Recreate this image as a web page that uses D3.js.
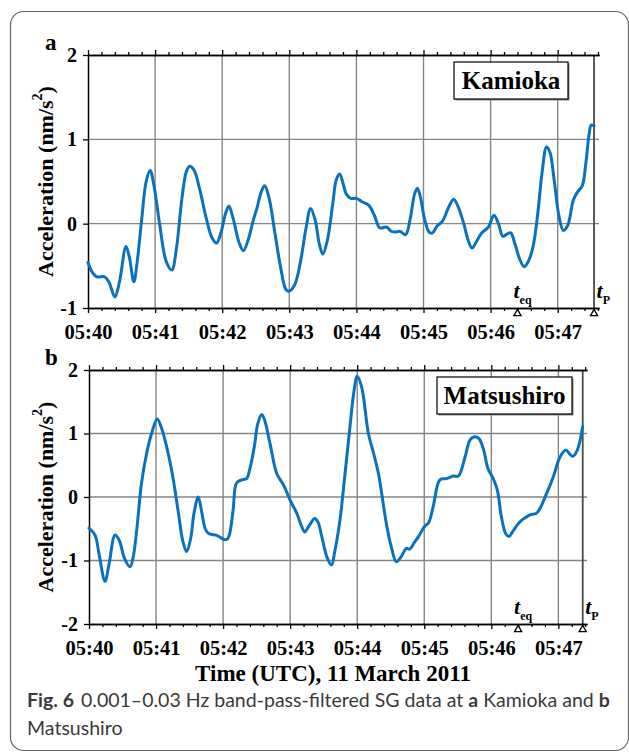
<!DOCTYPE html>
<html>
<head>
<meta charset="utf-8">
<script src="https://cdn.jsdelivr.net/npm/d3@7"></script>
<style>
  html, body { margin: 0; padding: 0; background: #fff; }
  svg { display: block; }
</style>
</head>
<body>
<svg id="chart" width="629" height="755"></svg>
<script>
// ---------- DATA (seconds after 05:40:00 UTC, acceleration nm/s^2) ----------
const kamiokaTime = [0,4,8,15,19,24,28,34,37,41,44,48,52,55.5,59,64,70,75,79,84,88,91,95,100,106,111,115,119,123,126,130,135,139,143,148,151,155,158,162,167,172,177,180,185,190,195,199,203,207,210,214,219,222,225,228,231,235,240,245,251,256,261,267,271,275,279,284,288,292,294.5,297,301,305,308,312,317,322,327,331,336,340,343.5,347,352,358,363,367,371,375,378,382,386,390,394,398,402,406,410,413,417,421,425,429,434,438,442,445,448,450,452.5];
const kamiokaAccel = [-0.46,-0.58,-0.63,-0.63,-0.70,-0.87,-0.70,-0.27,-0.40,-0.69,-0.45,0.05,0.50,0.63,0.45,0.00,-0.45,-0.55,-0.30,0.30,0.62,0.68,0.63,0.40,0.05,-0.17,-0.23,-0.10,0.12,0.21,0.05,-0.22,-0.32,-0.20,0.05,0.18,0.38,0.45,0.30,-0.10,-0.50,-0.78,-0.80,-0.72,-0.45,-0.05,0.18,0.05,-0.25,-0.36,-0.20,0.25,0.52,0.59,0.48,0.35,0.30,0.30,0.26,0.22,0.10,-0.05,-0.04,-0.09,-0.10,-0.09,-0.13,0.05,0.35,0.42,0.33,0.05,-0.10,-0.11,-0.03,0.03,0.18,0.29,0.20,0.00,-0.20,-0.29,-0.22,-0.11,-0.04,0.10,0.00,-0.15,-0.12,-0.11,-0.25,-0.42,-0.51,-0.44,-0.27,0.10,0.60,0.91,0.85,0.50,0.10,-0.08,-0.02,0.28,0.38,0.45,0.70,1.05,1.17,1.16];

const matsushiroTime = [0,5.4,9,14.3,18,23.3,27,32,36.7,39.5,42.7,47,51.6,56,61,65,69.5,75,80,84,87.4,91,94,97.8,101,104,106.8,110,113.6,117,120.8,124,126,129,132,136.6,141,144,148,151,154.5,157,162,168,174,180,186,190,193,197,202,205,208,213,217,220,224.6,229,233.5,237,240,244,250,254.5,259,266,270,275,279,284,287,291,295,300,304,308,314,320,326,330.5,336.5,341,345,349,353,357,362,365.5,369,373,376,380,385.7,390,394.6,400,403,409.6,415.5,421.5,426.8,430,433,437,441.8];
const matsushiroAccel = [-0.49,-0.60,-0.90,-1.33,-1.05,-0.60,-0.68,-0.98,-1.10,-0.95,-0.52,0.22,0.69,1.00,1.23,1.08,0.79,0.32,-0.25,-0.70,-0.86,-0.65,-0.25,0.00,-0.25,-0.50,-0.57,-0.59,-0.60,-0.63,-0.67,-0.66,-0.57,-0.20,0.22,0.27,0.29,0.45,0.80,1.15,1.30,1.22,0.84,0.37,0.19,-0.05,-0.26,-0.45,-0.55,-0.45,-0.34,-0.40,-0.60,-0.95,-1.07,-0.85,-0.36,0.35,1.10,1.65,1.90,1.73,1.00,0.70,0.37,-0.41,-0.75,-1.02,-0.95,-0.81,-0.82,-0.72,-0.62,-0.47,-0.40,-0.15,0.27,0.29,0.33,0.33,0.63,0.90,0.95,0.92,0.75,0.45,0.28,0.10,-0.31,-0.58,-0.62,-0.52,-0.39,-0.33,-0.28,-0.26,-0.20,0.06,0.32,0.63,0.74,0.68,0.64,0.74,1.11];

const xTickLabels = ["05:40","05:41","05:42","05:43","05:44","05:45","05:46","05:47"];
const kamiokaYTicks = [-1, 0, 1, 2];
const matsushiroYTicks = [-2, -1, 0, 1, 2];
const tEq = 384;            // 05:46:24
const kamiokaTP = 452.5;    // P arrival at Kamioka
const matsushiroTP = 441.8; // P arrival at Matsushiro

// ---------- DRAW ----------
const svg = d3.select("#chart");
const serif = "'Liberation Serif','Times New Roman',Times,serif";
const blue = "#0a72bd";
const gridCol = "#858585";

svg.append("rect").attr("x", 10.5).attr("y", 11.5).attr("width", 618).attr("height", 739)
  .attr("rx", 13).attr("fill", "none").attr("stroke", "#666").attr("stroke-width", 1.2);

function panel(cfg) {
  const x = d3.scaleLinear().domain([0, cfg.xEnd]).range([cfg.left, cfg.right]);
  const y = d3.scaleLinear().domain(cfg.yDomain).range([cfg.bottom, cfg.top]);
  const g = svg.append("g");
  const majors = d3.range(0, cfg.xEnd, 60);
  const minors = d3.range(0, cfg.xEnd, 12).filter(v => v % 60 !== 0);

  // grid
  g.append("g").selectAll("line").data(majors.filter(v => v > 0)).join("line")
    .attr("x1", d => x(d)).attr("x2", d => x(d)).attr("y1", cfg.top).attr("y2", cfg.bottom)
    .attr("stroke", gridCol).attr("stroke-width", 1.4);
  g.append("g").selectAll("line").data(cfg.yTicks.filter(v => v > cfg.yDomain[0] && v < cfg.yDomain[1])).join("line")
    .attr("x1", cfg.left).attr("x2", cfg.right).attr("y1", d => y(d)).attr("y2", d => y(d))
    .attr("stroke", gridCol).attr("stroke-width", 1.4);

  // t_P vertical line
  g.append("line").attr("x1", x(cfg.tP)).attr("x2", x(cfg.tP)).attr("y1", cfg.top).attr("y2", cfg.bottom)
    .attr("stroke", "#4a4a4a").attr("stroke-width", 1.8);

  // axes
  const styleAxis = sel => {
    sel.select(".domain").attr("stroke", "#000").attr("stroke-width", 1.5);
    sel.selectAll(".tick line").attr("stroke", "#000").attr("stroke-width", 1.3);
    sel.selectAll("text").attr("font-family", serif).attr("font-weight", "bold").attr("font-size", "20.5px").attr("fill", "#000");
  };
  g.append("g").attr("transform", `translate(0,${cfg.top})`)
    .call(d3.axisTop(x).tickValues(minors).tickSize(3).tickSizeOuter(0).tickFormat(""))
    .call(styleAxis);
  g.append("g").attr("transform", `translate(0,${cfg.top})`)
    .call(d3.axisTop(x).tickValues(majors).tickSize(5).tickSizeOuter(0).tickFormat(""))
    .call(styleAxis);
  g.append("g").attr("transform", `translate(0,${cfg.bottom})`)
    .call(d3.axisBottom(x).tickValues(minors).tickSize(3).tickSizeOuter(0).tickFormat(""))
    .call(styleAxis);
  g.append("g").attr("transform", `translate(0,${cfg.bottom})`)
    .call(d3.axisBottom(x).tickValues(majors).tickSize(5).tickSizeOuter(0).tickPadding(11)
      .tickFormat((d, i) => xTickLabels[i]))
    .call(styleAxis);
  g.append("g").attr("transform", `translate(${cfg.left},0)`)
    .call(d3.axisLeft(y).tickValues(cfg.yTicks).tickSize(5).tickSizeOuter(0).tickPadding(6)
      .tickFormat(d => d < 0 ? "-" + Math.abs(d) : String(d)))
    .call(styleAxis)
    .call(s => s.selectAll("text").attr("font-size", "20px"));

  // curve
  const pts = cfg.t.map((t, i) => [t, cfg.v[i]]);
  g.append("path").datum(pts)
    .attr("d", d3.line().x(d => x(d[0])).y(d => y(d[1])).curve(d3.curveCatmullRom.alpha(0.5)))
    .attr("fill", "none").attr("stroke", blue).attr("stroke-width", 3)
    .attr("stroke-linejoin", "round").attr("stroke-linecap", "round");

  // triangles
  const tri = d3.symbol().type(d3.symbolTriangle).size(22);
  [tEq, cfg.tP].forEach(t => {
    g.append("path").attr("d", tri()).attr("transform", `translate(${x(t)},${cfg.bottom + 5.5})`)
      .attr("fill", "#fff").attr("stroke", "#000").attr("stroke-width", 1.3);
  });
  // t labels
  const tl = (t, sub, dx) => {
    const txt = g.append("text").attr("x", x(t) + dx).attr("y", cfg.bottom - 10)
      .attr("font-family", serif).attr("font-weight", "bold");
    txt.append("tspan").attr("font-style", "italic").attr("font-size", "22px").text("t");
    txt.append("tspan").attr("font-size", "12px").attr("dy", 6).text(sub);
  };
  tl(tEq, "eq", -4);
  tl(cfg.tP, "P", 2.5);

  // station label box
  const bx = cfg.box;
  g.append("rect").attr("x", bx.x + 1.5).attr("y", bx.y + 1.5).attr("width", bx.w).attr("height", bx.h)
    .attr("fill", "#888");
  g.append("rect").attr("x", bx.x).attr("y", bx.y).attr("width", bx.w).attr("height", bx.h)
    .attr("fill", "#fff").attr("stroke", "#000").attr("stroke-width", 1.2);
  g.append("text").attr("x", bx.x + bx.w / 2).attr("y", bx.y + bx.h - 10).attr("text-anchor", "middle")
    .attr("font-family", serif).attr("font-weight", "bold").attr("font-size", "25px").text(cfg.name);

  // panel letter
  g.append("text").attr("x", 45).attr("y", cfg.letterY).attr("font-family", serif).attr("font-weight", "bold")
    .attr("font-size", "23px").text(cfg.letter);

  // y label
  const yl = g.append("text").attr("transform", `translate(45,${(cfg.top + cfg.bottom) / 2}) rotate(-90)`)
    .attr("text-anchor", "middle").attr("dominant-baseline", "central")
    .attr("font-family", serif).attr("font-weight", "bold").attr("font-size", "22px");
  yl.append("tspan").text("Acceleration (nm/s");
  yl.append("tspan").attr("font-size", "14px").attr("dy", -8).text("2");
  yl.append("tspan").attr("dy", 8).text(")");
}

panel({ t: kamiokaTime, v: kamiokaAccel, xEnd: (599 - 88) / 67.1 * 60, left: 88, right: 599,
  top: 55, bottom: 308, yDomain: [-1, 2], yTicks: kamiokaYTicks, tP: kamiokaTP,
  name: "Kamioka", box: { x: 454, y: 62, w: 114, h: 37 }, letter: "a", letterY: 50 });
panel({ t: matsushiroTime, v: matsushiroAccel, xEnd: (587 - 89) / 67.05 * 60, left: 89, right: 587,
  top: 370, bottom: 624, yDomain: [-2, 2], yTicks: matsushiroYTicks, tP: matsushiroTP,
  name: "Matsushiro", box: { x: 437, y: 377, w: 135, h: 37 }, letter: "b", letterY: 365 });

// x axis title
svg.append("text").attr("x", 333).attr("y", 681).attr("text-anchor", "middle")
  .attr("font-family", serif).attr("font-weight", "bold").attr("font-size", "23px")
  .text("Time (UTC), 11 March 2011");

// caption
const sans = "Lato,'Open Sans','Noto Sans',sans-serif";
const cap = svg.append("text").attr("x", 27).attr("y", 707).attr("font-family", sans)
  .attr("font-size", "17px").attr("fill", "#3a3a3a");
cap.append("tspan").attr("font-weight", "bold").text("Fig. 6");
cap.append("tspan").attr("dx", 7).text("0.001–0.03 Hz band-pass-filtered SG data at ");
cap.append("tspan").attr("font-weight", "bold").text("a");
cap.append("tspan").text(" Kamioka and ");
cap.append("tspan").attr("font-weight", "bold").text("b");
const w = cap.node().getComputedTextLength();
const fs = 17 * 576 / w;
cap.attr("font-size", fs + "px");
svg.append("text").attr("x", 27).attr("y", 735).attr("font-family", sans)
  .attr("font-size", fs + "px").attr("fill", "#3a3a3a").text("Matsushiro");
</script>
</body>
</html>
